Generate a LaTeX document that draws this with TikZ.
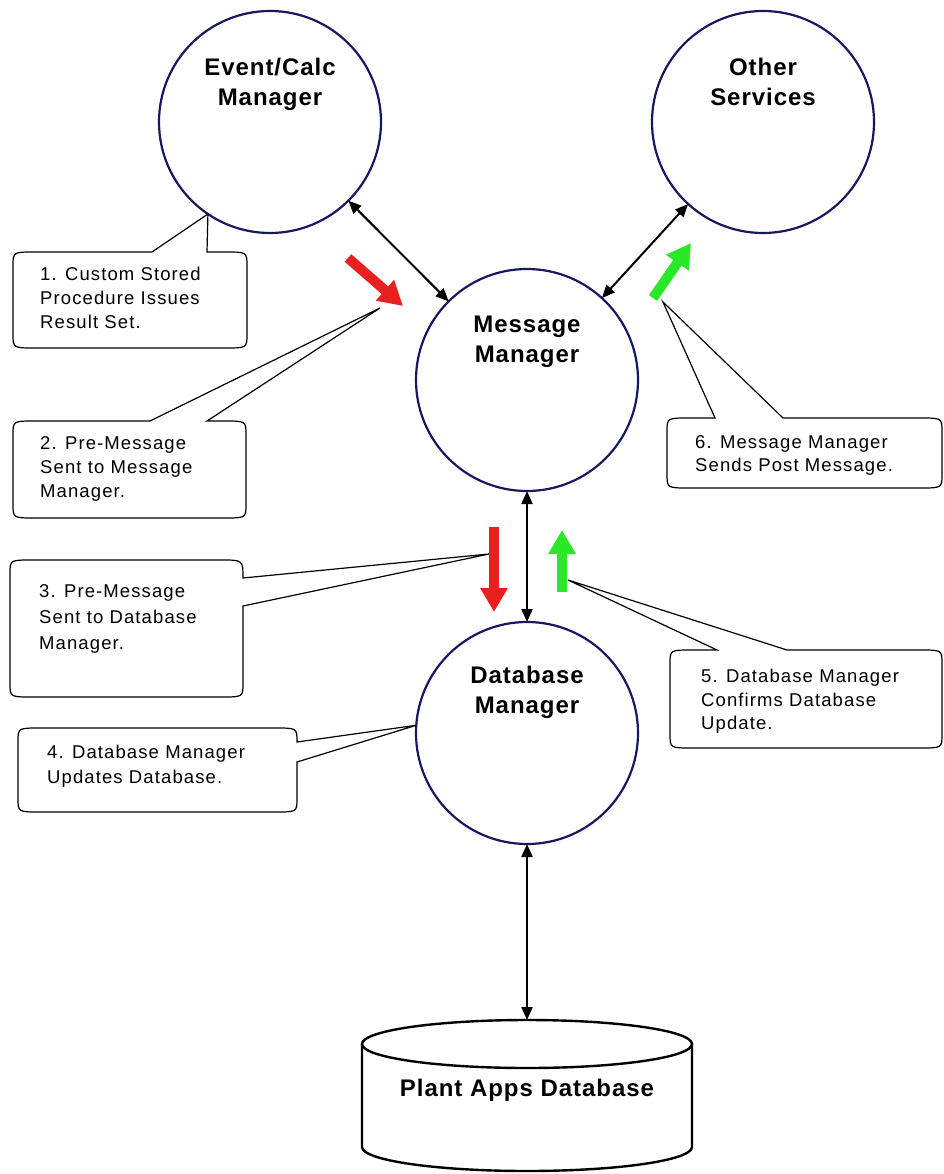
\documentclass[tikz,border=0pt]{standalone}
\usepackage{fontspec}
\setmainfont{Liberation Sans}
\newfontfamily\callfont[LetterSpace=6]{Liberation Sans}
\newfontfamily\lblfont[LetterSpace=4]{Liberation Sans}
\usetikzlibrary{arrows.meta}
\definecolor{circnavy}{RGB}{24,24,96}
\definecolor{flowred}{RGB}{232,32,32}
\definecolor{flowgreen}{RGB}{40,232,40}
\begin{document}
\begin{tikzpicture}[x=1pt,y=-1pt,
  proc/.style={circle, draw=circnavy, line width=2.2pt, minimum size=222pt, inner sep=0pt, outer sep=0pt, fill=white},
  lbl/.style={font=\lblfont\bfseries\fontsize{24}{30}\selectfont, align=center, inner sep=0pt},
  link/.style={line width=2pt, {Triangle[length=13pt,width=11pt]}-{Triangle[length=13pt,width=11pt]}},
  flow/.style={line width=10pt, -{Triangle[length=24pt,width=26pt]}},
  callout/.style={draw=black, line width=1.2pt, fill=white, line join=miter},
  ctext/.style={font=\callfont\fontsize{18.5}{24}\selectfont, align=left, inner sep=0pt, anchor=north west},
  dbshape/.style={draw=black, line width=2.4pt}]
\useasboundingbox (0,0) rectangle (944,1174);
\fill[white] (0,0) rectangle (944,1174);

% processes
\node[proc] (ec) at (270,122) {};
\node[proc] (os) at (763,122) {};
\node[proc] (mm) at (527,380) {};
\node[proc] (db) at (527,733) {};
\node[lbl] (ect) at (270,84) {Event/Calc\\Manager};
\node[lbl] (ost) at (763,82) {Other\\Services};
\node[lbl] (mmt) at (527,342) {Message\\Manager};
\node[lbl] (dbt) at (527,692) {Database\\Manager};

% database cylinder
\fill[white] (362,1044) -- (362,1147) arc[start angle=180,end angle=0,x radius=165,y radius=24] -- (692,1044) -- cycle;
\draw[dbshape] (362,1044) -- (362,1147) arc[start angle=180,end angle=0,x radius=165,y radius=24] -- (692,1044);
\draw[dbshape, fill=white] (527,1044) ellipse[x radius=165, y radius=24];
\coordinate (dbtop) at (527,1020);
\node[lbl] (pad) at (527,1090) {Plant Apps Database};

% connectors
\draw[link] (ec) -- (mm);
\draw[link] (os) -- (mm);
\draw[link] (mm) -- (db);
\draw[link] (db) -- (dbtop);

% flow arrows
\coordinate (r1s) at (348,258); \coordinate (r1e) at (403,306);
\coordinate (g1s) at (653,298); \coordinate (g1e) at (691,243);
\coordinate (r2s) at (494,527); \coordinate (r2e) at (494,612);
\coordinate (g2s) at (562,592); \coordinate (g2e) at (562,530);
\draw[flow, flowred] (r1s) -- (r1e);
\draw[flow, flowgreen] (g1s) -- (g1e);
\draw[flow, flowred] (r2s) -- (r2e);
\draw[flow, flowgreen] (g2s) -- (g2e);

% callout tips
\coordinate (c2tip) at (380,308);
\coordinate (c3tip) at (489,554);
\coordinate (c5tip) at (568,580);
\coordinate (c6tip) at (663,302);

% callout 1
\draw[callout] (35,252) -- (152,252) -- (ec.236) -- (207,252) -- (225,252) .. controls (247,252) .. (247,266) -- (247,334) .. controls (247,348) .. (225,348) -- (35,348) .. controls (13,348) .. (13,334) -- (13,266) .. controls (13,252) .. (35,252) -- cycle;
\node[ctext] (c1) at (40,267) {1. Custom Stored\\Procedure Issues\\Result Set.};

% callout 2
\draw[callout] (35,421) -- (150,421) -- (c2tip) -- (207,421) -- (224,421) .. controls (246,421) .. (246,435) -- (246,504) .. controls (246,518) .. (224,518) -- (35,518) .. controls (13,518) .. (13,504) -- (13,435) .. controls (13,421) .. (35,421) -- cycle;
\node[ctext] (c2) at (40,436) {2. Pre-Message\\Sent to Message\\Manager.};

% callout 3
\draw[callout] (32,560) -- (221,560) .. controls (243,560) .. (243,578) -- (c3tip) -- (243,606) -- (243,683) .. controls (243,697) .. (221,697) -- (32,697) .. controls (10,697) .. (10,683) -- (10,574) .. controls (10,560) .. (32,560) -- cycle;
\node[ctext, font=\callfont\fontsize{18.5}{26}\selectfont] (c3) at (39,584) {3. Pre-Message\\Sent to Database\\Manager.};

% callout 4
\draw[callout] (40,728) -- (275,728) .. controls (297,728) .. (297,742) -- (db.176) -- (297,762) -- (297,798) .. controls (297,812) .. (275,812) -- (40,812) .. controls (18,812) .. (18,798) -- (18,742) .. controls (18,728) .. (40,728) -- cycle;
\node[ctext, font=\callfont\fontsize{18.5}{25}\selectfont] (c4) at (47,745) {4. Database Manager\\Updates Database.};

% callout 5
\draw[callout] (692,650) -- (717,650) -- (c5tip) -- (787,650) -- (920,650) .. controls (942,650) .. (942,664) -- (942,734) .. controls (942,748) .. (920,748) -- (692,748) .. controls (670,748) .. (670,734) -- (670,664) .. controls (670,650) .. (692,650) -- cycle;
\node[ctext, font=\callfont\fontsize{18.5}{23.5}\selectfont] (c5) at (701,669) {5. Database Manager\\Confirms Database\\Update.};

% callout 6
\draw[callout] (689,418) -- (715,418) -- (c6tip) -- (783,418) -- (920,418) .. controls (942,418) .. (942,432) -- (942,474) .. controls (942,488) .. (920,488) -- (689,488) .. controls (667,488) .. (667,474) -- (667,432) .. controls (667,418) .. (689,418) -- cycle;
\node[ctext, font=\callfont\fontsize{18.5}{23}\selectfont] (c6) at (695,435) {6. Message Manager\\Sends Post Message.};
\end{tikzpicture}
\end{document}
